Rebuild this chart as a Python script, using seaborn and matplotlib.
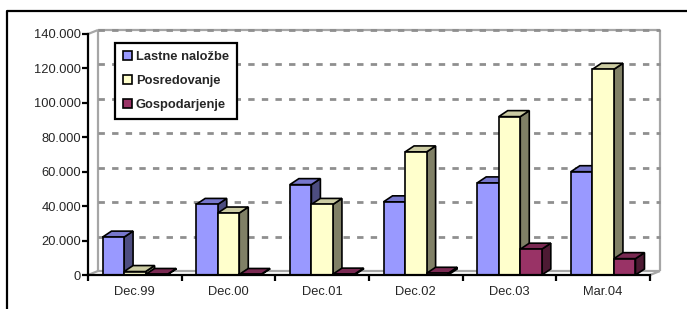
import numpy as np
import pandas as pd
import seaborn as sns
import matplotlib.pyplot as plt
from matplotlib.patches import Polygon, Patch
from matplotlib.lines import Line2D
from matplotlib.ticker import FuncFormatter

# data
categories = ['Dec.99', 'Dec.00', 'Dec.01', 'Dec.02', 'Dec.03', 'Mar.04']
series = ['Lastne naložbe', 'Posredovanje', 'Gospodarjenje']
lastne = [22000, 41000, 52500, 42500, 53500, 60000]
posredovanje = [2000, 36000, 41000, 71500, 92000, 119500]
gospodarjenje = [300, 300, 500, 1000, 15000, 9500]
yticks = [0, 20000, 40000, 60000, 80000, 100000, 120000, 140000]

front_cols = ['#9999FF', '#FFFFCC', '#993366']
side_cols = ['#4D4D80', '#808066', '#4D1A33']
top_cols = ['#7777CC', '#CCCCA3', '#7A2952']

df = pd.DataFrame({
    'cat': categories * 3,
    'series': [s for s in series for _ in categories],
    'value': lastne + posredovanje + gospodarjenje,
})

sns.set_theme(style='white')
plt.rcParams['font.family'] = ['Liberation Sans', 'DejaVu Sans']
FS = 9.3

W, H = 687, 309
fig = plt.figure(figsize=(W / 100, H / 100), dpi=100)
ax = fig.add_axes([88 / W, 1 - 275 / H, (650 - 88) / W, (275 - 34) / H])
ax.patch.set_alpha(0)

sns.barplot(data=df, x='cat', y='value', hue='series', palette=front_cols,
            width=0.69, edgecolor='black', linewidth=1.2, saturation=1,
            legend=False, ax=ax, zorder=4)

ax.set_xlim(-0.5, len(categories) - 0.5)
ax.set_ylim(0, 140000)

# pixel depth of the 3D effect
WALL_DX, WALL_DY = 10, 4
BAR_DX, BAR_DY = 9, 6


def shift(x, y, dxp, dyp):
    px = ax.transData.transform((x, y))
    return ax.transData.inverted().transform((px[0] + dxp, px[1] + dyp))


# back wall + gridlines
x0, x1 = -0.5, len(categories) - 0.5
wall_kw = dict(color='#A6A6A6', lw=1.6, zorder=1, clip_on=False, solid_capstyle='butt')
for (xa, ya), (xb, yb) in [((x0, 0), (x0, 140000)), ((x1, 0), (x1, 140000)),
                           ((x0, 0), (x1, 0)), ((x0, 140000), (x1, 140000))]:
    p, q = shift(xa, ya, WALL_DX, WALL_DY), shift(xb, yb, WALL_DX, WALL_DY)
    ax.add_line(Line2D([p[0], q[0]], [p[1], q[1]], **wall_kw))
for (xa, ya) in [(x0, 0), (x1, 0), (x0, 140000)]:
    p = shift(xa, ya, WALL_DX, WALL_DY)
    ax.add_line(Line2D([xa, p[0]], [ya, p[1]], **wall_kw))
for v in yticks[1:]:
    p, q = shift(x0, v, WALL_DX, WALL_DY), shift(x1, v, WALL_DX, WALL_DY)
    ax.add_line(Line2D([p[0], q[0]], [p[1], q[1]], color='#8F8F8F', lw=2.0,
                       dashes=(2.3, 2.6), zorder=1.5, clip_on=False))

# side and top faces of each bar
for i, bar in enumerate(ax.patches):
    k = i // len(categories)
    x, w, h = bar.get_x(), bar.get_width(), bar.get_height()
    side = [(x + w, 0), (x + w, h), shift(x + w, h, BAR_DX, BAR_DY), shift(x + w, 0, BAR_DX, BAR_DY)]
    top = [(x, h), (x + w, h), shift(x + w, h, BAR_DX, BAR_DY), shift(x, h, BAR_DX, BAR_DY)]
    ax.add_patch(Polygon(side, closed=True, fc=side_cols[k], ec='black', lw=1.2,
                         zorder=2, clip_on=False))
    ax.add_patch(Polygon(top, closed=True, fc=top_cols[k], ec='black', lw=1.2,
                         zorder=2.5, clip_on=False))

# axes styling
for s in ['top', 'right']:
    ax.spines[s].set_visible(False)
for s in ['left', 'bottom']:
    ax.spines[s].set_color('black')
    ax.spines[s].set_linewidth(1.6)
    ax.spines[s].set_zorder(5)

ax.set_yticks(yticks)
ax.yaxis.set_major_formatter(FuncFormatter(lambda v, _: f'{v:,.0f}'.replace(',', '.')))
ax.tick_params(axis='y', direction='out', length=4, width=1.6, color='black',
               labelsize=FS, pad=1, left=True)
ax.set_xticks(range(len(categories)))
ax.set_xticklabels(categories)
ax.set_xticks(np.arange(-0.5, len(categories), 1.0), minor=True)
ax.tick_params(axis='x', which='major', length=0, labelsize=FS, pad=8)
ax.tick_params(axis='x', which='minor', direction='out', length=4, width=1.6,
               color='black', bottom=True)
ax.set_xlabel('')
ax.set_ylabel('')
ax.grid(False)

# legend
handles = [Patch(facecolor=c, edgecolor='black', lw=1.2) for c in front_cols]
leg = fig.legend(handles, series, loc='upper left',
                 bbox_to_anchor=(115 / W, 1 - 43 / H), frameon=True, fancybox=False,
                 framealpha=1, edgecolor='black', handlelength=0.7, handleheight=0.7,
                 handletextpad=0.3, borderpad=0.6, labelspacing=0.95, borderaxespad=0,
                 prop={'weight': 'bold', 'size': FS})
leg.get_frame().set_linewidth(1.6)

# outer chart border (only top and left visible)
fig.add_artist(Line2D([7 / W, 7 / W, 1], [0, 1 - 11 / H, 1 - 11 / H],
                      color='black', lw=1.6, transform=fig.transFigure))

fig.savefig('out.png', dpi=100)
